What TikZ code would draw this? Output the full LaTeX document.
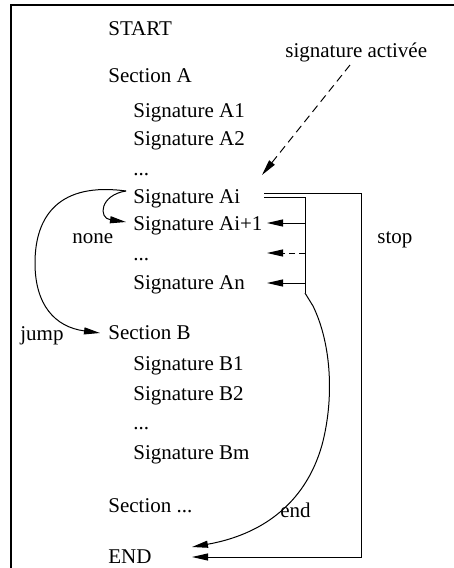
\documentclass[tikz,border=0pt]{standalone}
\usepackage{fontspec}
\setmainfont{Liberation Serif}
\usetikzlibrary{arrows.meta}

\tikzset{
  txt/.style={anchor=base west, inner sep=0pt, font=\fontsize{10.5}{12}\selectfont},
  fl/.style={-{Triangle[length=8pt,width=3.5pt]}, line width=0.5pt},
}

\begin{document}
\begin{tikzpicture}[x=0.5pt, y=-0.5pt]
    % Cadre
    \useasboundingbox (0,0) rectangle (454,568);
    \clip (0,0) rectangle (454,568);
    \draw[line width=1.2pt] (11,590) -- (11,5) -- (480,5);
    % Sections et signatures
    \node[txt] (start) at (108,35) {START};
    \node[txt] (secA) at (108,82) {Section A};
    \node[txt] (sigA1) at (133,117) {Signature A1};
    \node[txt] (sigA2) at (133,145) {Signature A2};
    \node[txt] (dotsA) at (133,175) {...};
    \node[txt] (sigAi) at (133,203) {Signature Ai};
    \node[txt] (sigAj) at (133,230) {Signature Ai+1};
    \node[txt] (dotsAj) at (133,260) {...};
    \node[txt] (sigAn) at (133,289) {Signature An};
    \node[txt] (secB) at (108,339) {Section B};
    \node[txt] (sigB1) at (133,370) {Signature B1};
    \node[txt] (sigB2) at (133,400) {Signature B2};
    \node[txt] (dotsB) at (133,429) {...};
    \node[txt] (sigBm) at (133,459) {Signature Bm};
    \node[txt] (secX) at (108,512) {Section ...};
    \node[txt] (fin) at (108,563) {END};
    % Etiquettes
    \node[txt] (active) at (285,57) {signature activée};
    \node[txt] (stop) at (377,243) {stop};
    \node[txt] (none) at (72,243) {none};
    \node[txt] (jump) at (20,340) {jump};
    \node[txt] (endl) at (280,517) {end};
    % Points des connecteurs
    \coordinate (actS) at (350,65);
    \coordinate (actT) at (262,175);
    \coordinate (aiL) at (126,191);
    \coordinate (aiTop) at (264,193);
    \coordinate (aiBot) at (264,197);
    \coordinate (stopR) at (361,193);
    \coordinate (stopB) at (361,557);
    \coordinate (busT) at (305,197);
    \coordinate (busB) at (305,293);
    \coordinate (busAj) at (305,223);
    \coordinate (busD) at (305,253);
    \coordinate (busAn) at (305,283);
    \coordinate (tAj) at (267,223);
    \coordinate (tD) at (267,253);
    \coordinate (tAn) at (267,283);
    \coordinate (noneT) at (126,222);
    \coordinate (jumpT) at (100,333);
    \coordinate (finS) at (192,557);
    \coordinate (finC) at (192,547);
    % Signature activee
    \draw[fl, dash pattern=on 4pt off 2.5pt] (actS) -- (actT);
    % none et jump
    \draw[fl] (aiL) .. controls (100,195) and (98,218) .. (noneT);
    \draw[fl] (aiL) .. controls (60,182) and (35,215) .. (35,263)
        .. controls (35,305) and (55,327) .. (jumpT);
    % Signatures suivantes
    \draw[line width=0.5pt] (aiBot) -- (busT) -- (busB);
    \draw[fl] (busAj) -- (tAj);
    \draw[fl, dash pattern=on 3pt off 2pt] (busD) -- (tD);
    \draw[fl] (busAn) -- (tAn);
    % stop et end
    \draw[fl] (aiTop) -- (stopR) -- (stopB) -- (finS);
    \draw[fl] (busB) -- (313,306) .. controls (332,345) and (334,400) .. (322,445)
        .. controls (305,505) and (260,535) .. (finC);
\end{tikzpicture}
\end{document}
